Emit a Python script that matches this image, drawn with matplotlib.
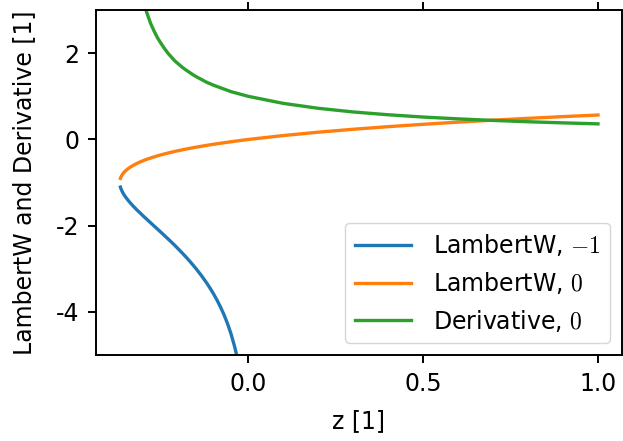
import numpy as np
import matplotlib
matplotlib.use("Agg")
import matplotlib.pyplot as plt

plt.rcParams['font.family'] = ['DejaVu Sans']
plt.rcParams['mathtext.fontset'] = 'cm'
plt.rcParams['axes.unicode_minus'] = False
plt.rcParams['font.size'] = 17

# branch -1, z in [-1/e, 0)
z_m1 = [-0.366, -0.365, -0.36, -0.355, -0.35, -0.345, -0.34, -0.33, -0.32, -0.31, -0.30,
        -0.29, -0.28, -0.27, -0.26, -0.25, -0.24, -0.23, -0.22, -0.21, -0.20, -0.19,
        -0.18, -0.165, -0.15, -0.135, -0.12, -0.11, -0.10, -0.09, -0.08, -0.07,
        -0.06, -0.05, -0.04, -0.035, -0.03]
w_m1 = [-1.105, -1.131, -1.223, -1.291, -1.349, -1.401, -1.451, -1.541, -1.625, -1.702, -1.781,
        -1.855, -1.930, -2.005, -2.079, -2.153, -2.229, -2.305, -2.382, -2.461, -2.543, -2.627,
        -2.713, -2.849, -2.994, -3.150, -3.320, -3.444, -3.577, -3.722, -3.882, -4.060,
        -4.264, -4.500, -4.784, -4.952, -5.14]

# principal branch and its derivative
z_0 = [-0.366, -0.365, -0.36, -0.355, -0.35, -0.345, -0.34, -0.33, -0.32, -0.31, -0.30,
       -0.29, -0.28, -0.27, -0.26, -0.25, -0.24, -0.23, -0.22, -0.21, -0.20, -0.19,
       -0.18, -0.16, -0.15, -0.12, -0.10, -0.05, 0.0,
       0.1, 0.2, 0.3, 0.4, 0.5, 0.6, 0.7, 0.8, 0.9, 1.0]
w_0 = [-0.902, -0.880, -0.806, -0.756, -0.717, -0.684, -0.654, -0.604, -0.561, -0.523, -0.489,
       -0.459, -0.431, -0.405, -0.380, -0.357, -0.336, -0.315, -0.296, -0.277, -0.259, -0.242,
       -0.226, -0.194, -0.180, -0.138, -0.112, -0.053, 0.0,
       0.091, 0.169, 0.237, 0.297, 0.352, 0.402, 0.448, 0.490, 0.530, 0.567]
dw_0 = [25.1, 20.1, 11.54, 8.6, 7.23, 6.3, 5.57, 4.63, 3.99, 3.54, 3.20,
        2.93, 2.70, 2.52, 2.36, 2.23, 2.11, 2.00, 1.91, 1.82, 1.75, 1.68,
        1.62, 1.51, 1.46, 1.33, 1.26, 1.11, 1.0,
        0.837, 0.723, 0.638, 0.573, 0.520, 0.478, 0.442, 0.411, 0.385, 0.362]

fig = plt.figure(figsize=(6.23, 4.41), dpi=100)
ax = fig.add_axes([0.154, 0.195, 0.844, 0.782])
ax.plot(z_m1, w_m1, lw=2.4, label=r'LambertW, $-1$')
ax.plot(z_0, w_0, lw=2.4, label=r'LambertW, $0$')
ax.plot(z_0, dw_0, lw=2.4, label=r'Derivative, $0$')
ax.set_xlim(-0.436, 1.068)
ax.set_ylim(-5, 3)
ax.set_xticks([0.0, 0.5, 1.0])
ax.set_yticks([-4, -2, 0, 2])
ax.tick_params(top=True, direction='out', length=6, width=1.4, pad=6)
for s in ax.spines.values():
    s.set_linewidth(1.4)
ax.set_xlabel('z [1]', labelpad=10)
ax.set_ylabel('LambertW and Derivative [1]', labelpad=14)
ax.legend(loc='lower right', handlelength=2.4, handletextpad=0.9)
fig.savefig('out.png', dpi=100)
